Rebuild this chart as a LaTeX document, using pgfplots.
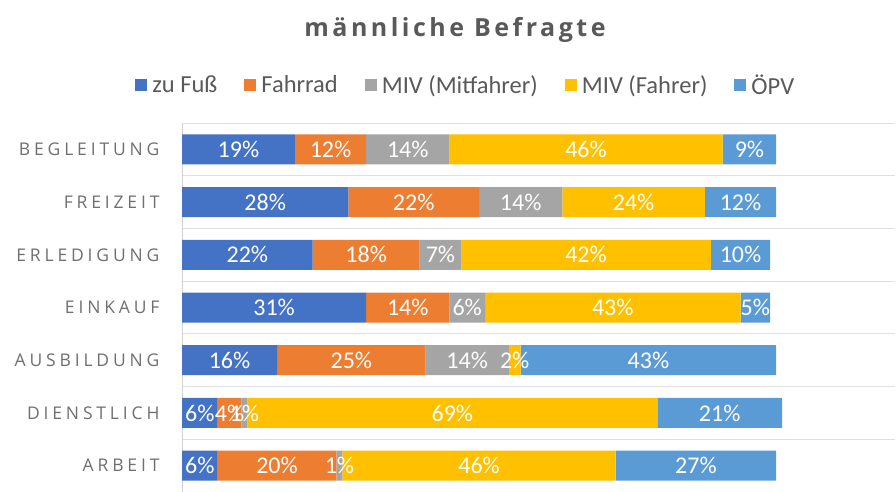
\documentclass[border=0pt]{standalone}
\usepackage{fontspec}
\setmainfont{Carlito}
\newfontfamily\titlefont[LetterSpace=14]{Open Sans}
\newfontfamily\catfont[LetterSpace=22]{Open Sans}
\usepackage{pgfplots}
\pgfplotsset{compat=1.18}

\definecolor{cFuss}{HTML}{4472C4}
\definecolor{cRad}{HTML}{ED7D31}
\definecolor{cMit}{HTML}{A5A5A5}
\definecolor{cFahr}{HTML}{FFC000}
\definecolor{cOePV}{HTML}{5B9BD5}
\definecolor{txt}{HTML}{595959}
\definecolor{cattxt}{HTML}{6F6F6F}

\begin{document}
\begin{tikzpicture}[x=1pt,y=1pt]
  \path[use as bounding box] (0,0) rectangle (896,492);
  \node[font={\titlefont\bfseries\fontsize{25}{28}\selectfont}, text=txt] at (455,462) {männliche Befragte};

  \begin{axis}[
      at={(182pt,0pt)},
      anchor=south west,
      scale only axis,
      width=713pt,
      height=369pt,
      xbar stacked,
      bar width=30pt,
      xmin=0, xmax=120,
      ymin=-0.5, ymax=6.5,
      hide x axis,
      axis y line*=left,
      y axis line style={draw=gray!35, line width=0.8pt},
      ytick={0,...,6},
      yticklabels={ARBEIT,DIENSTLICH,AUSBILDUNG,EINKAUF,ERLEDIGUNG,FREIZEIT,BEGLEITUNG},
      yticklabel style={font={\catfont\fontsize{17.5}{19}\selectfont}, text=cattxt},
      major tick length=0pt,
      y tick label style={xshift=-19pt},
      minor ytick={-0.5,0.5,...,6.5},
      yminorgrids,
      minor grid style={draw=gray!25, line width=0.8pt},
      minor tick length=0pt,
      point meta=explicit symbolic,
      nodes near coords={\pgfplotspointmeta\%},
      every node near coord/.append style={
          font=\fontsize{24}{26}\selectfont, text=white, inner sep=0pt,
          anchor=center},
      legend style={
          at={(0.398,1.103)}, anchor=center,
          draw=none, fill=none,
          legend columns=5,
          font=\fontsize{24.5}{26}\selectfont, text=txt,
          /tikz/every odd column/.append style={column sep=3pt},
          /tikz/every even column/.append style={column sep=25pt}
      },
      legend image code/.code={\fill[#1] (0pt,-6pt) rectangle (12pt,6pt);},
      clip=false
  ]

  % zu Fuss
  \addplot[fill=cFuss, draw=none] coordinates {
    (6,0) [6] (6,1) [6] (16,2) [16] (31,3) [31] (22,4) [22] (28,5) [28] (19,6) [19]
  };
  \addlegendentry{zu Fuß}

  % Fahrrad
  \addplot[fill=cRad, draw=none] coordinates {
    (20,0) [20] (4,1) [4] (25,2) [25] (14,3) [14] (18,4) [18] (22,5) [22] (12,6) [12]
  };
  \addlegendentry{Fahrrad}

  % MIV (Mitfahrer)
  \addplot[fill=cMit, draw=none] coordinates {
    (1,0) [1] (1,1) [1] (14,2) [14] (6,3) [6] (7,4) [7] (14,5) [14] (14,6) [14]
  };
  \addlegendentry{MIV (Mitfahrer)}

  % MIV (Fahrer)
  \addplot[fill=cFahr, draw=none] coordinates {
    (46,0) [46] (69,1) [69] (2,2) [2] (43,3) [43] (42,4) [42] (24,5) [24] (46,6) [46]
  };
  \addlegendentry{MIV (Fahrer)}

  % OePV
  \addplot[fill=cOePV, draw=none] coordinates {
    (27,0) [27] (21,1) [21] (43,2) [43] (5,3) [5] (10,4) [10] (12,5) [12] (9,6) [9]
  };
  \addlegendentry{ÖPV}

  \end{axis}
\end{tikzpicture}
\end{document}
